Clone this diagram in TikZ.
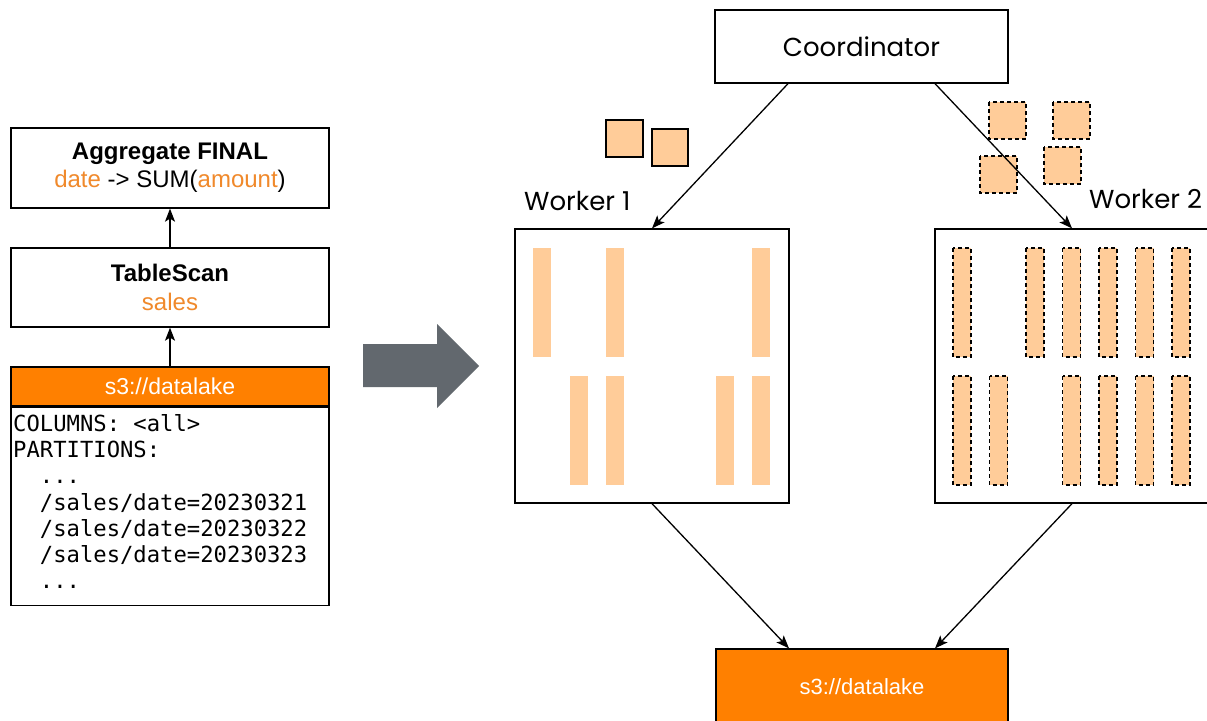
\documentclass[tikz,border=0pt]{standalone}
\usepackage{fontspec}
\setmainfont{Liberation Sans}
\setmonofont{DejaVu Sans Mono}
\newfontfamily\poppins{Poppins}
\usetikzlibrary{arrows.meta}
\definecolor{lakeorange}{HTML}{FF8000}
\definecolor{textorange}{HTML}{F0892B}
\definecolor{blockfill}{HTML}{FFCC99}
\definecolor{bigarrow}{HTML}{62686E}

\begin{document}
\begin{tikzpicture}[x=1pt, y=-1pt,
	box/.style={draw, line width=1.3pt, inner sep=0pt},
	lake/.style={box, fill=lakeorange, text=white},
	link/.style={-{Stealth[length=13pt, width=10pt, inset=3pt]}, line width=1.3pt},
	chunk/.style={fill=blockfill},
	spilled/.style={chunk, draw, dash pattern=on 4pt off 3pt, line width=1.2pt},
	label/.style={anchor=base west, inner sep=0pt, font=\poppins\fontsize{26}{30}\selectfont},
	]
	\fill[white] (0,0) rectangle (1207,720);
	\useasboundingbox (0,0) rectangle (1207,720);

	\node[box, minimum width=318pt, minimum height=80pt, align=center, font=\fontsize{24}{28}\selectfont] (aggregate) at (170,168)
		{\textbf{Aggregate FINAL}\\\textcolor{textorange}{date} -> SUM(\textcolor{textorange}{amount})};
	\node[box, minimum width=318pt, minimum height=79pt, align=center, font=\fontsize{24}{29}\selectfont] (tablescan) at (170,287.5)
		{\textbf{TableScan}\\\textcolor{textorange}{sales}};
	\node[lake, minimum width=318pt, minimum height=39pt, font=\fontsize{23}{26}\selectfont] (scanhead) at (170,386.5) {s3://datalake};
	\node[box, minimum width=318pt, minimum height=198pt, anchor=north] (scanbody) at (scanhead.south) {};
	\node[anchor=north west, inner sep=0pt, align=left, font=\ttfamily\fontsize{22.2}{26.3}\selectfont] (partitions) at (13,414)
		{COLUMNS: <all>\\PARTITIONS:\\\phantom{00}...\\\phantom{00}/sales/date=20230321\\\phantom{00}/sales/date=20230322\\\phantom{00}/sales/date=20230323\\\phantom{00}...};
	\draw[link] (scanhead.north) -- (tablescan.south);
	\draw[link] (tablescan.north) -- (aggregate.south);

	\fill[bigarrow] (363,344) -- (437,344) -- (437,324) -- (479,366) -- (437,408) -- (437,387) -- (363,387) -- cycle;

	\node[box, minimum width=293pt, minimum height=73pt, font=\poppins\fontsize{26}{30}\selectfont] (coordinator) at (861.5,46.5) {Coordinator};
	\node[box, minimum width=274pt, minimum height=274pt] (worker1) at (652,366) {};
	\node[box, minimum width=274pt, minimum height=274pt] (worker2) at (1072,366) {};
	\node[label] (worker1label) at (524,210) {Worker 1};
	\node[label] (worker2label) at (1089,208) {Worker 2};
	\node[lake, minimum width=292pt, minimum height=75pt, font=\fontsize{22}{26}\selectfont] (lake) at (862,686.5) {s3://datalake};

	\foreach \c in {0,2,6} {
		\fill[chunk] (533+36.5*\c,248) rectangle ++(18,109);
	}
	\foreach \c in {1,2,5,6} {
		\fill[chunk] (533+36.5*\c,376) rectangle ++(18,109);
	}
	\foreach \c in {0,2,3,4,5,6} {
		\filldraw[spilled] (953+36.5*\c,248) rectangle ++(18,109);
	}
	\foreach \c in {0,1,3,4,5,6} {
		\filldraw[spilled] (953+36.5*\c,376) rectangle ++(18,109);
	}

	\filldraw[chunk, draw, line width=1.2pt] (606,120) rectangle ++(37,37);
	\filldraw[chunk, draw, line width=1.2pt] (652,129) rectangle ++(36,37);
	\foreach \x/\y in {989/102, 1053/102, 980/156, 1044/147} {
		\filldraw[spilled] (\x,\y) rectangle ++(37,37);
	}

	\draw[link] ([xshift=-73.5pt]coordinator.south) -- (worker1.north);
	\draw[link] ([xshift=73.5pt]coordinator.south) -- (worker2.north);
	\draw[link] (worker1.south) -- ([xshift=-73pt]lake.north);
	\draw[link] (worker2.south) -- ([xshift=73pt]lake.north);
\end{tikzpicture}
\end{document}
